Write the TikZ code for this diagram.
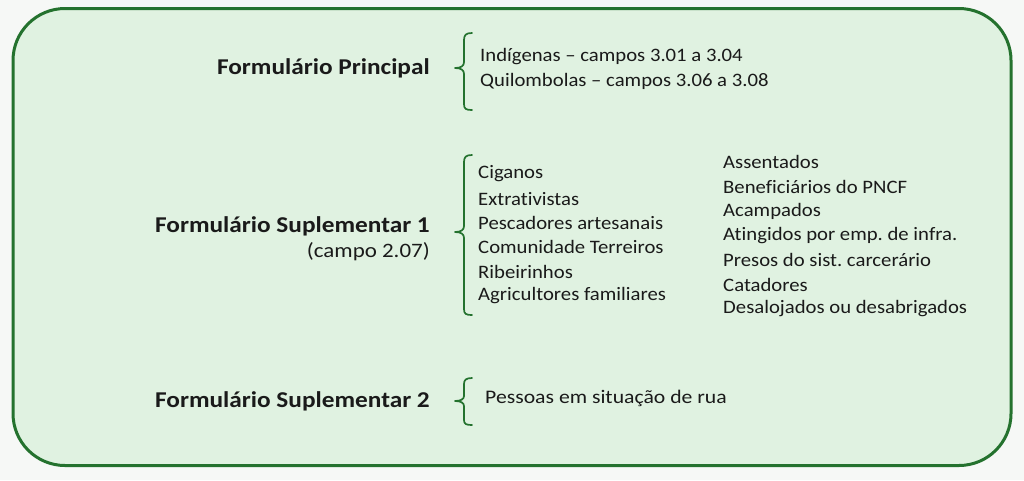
\documentclass[tikz,border=0pt]{standalone}
\usepackage{fontspec}
\setmainfont[Ligatures=NoCommon]{Carlito}
\frenchspacing
\definecolor{frame}{HTML}{24722E}
\definecolor{fillg}{HTML}{E0F2E1}
\definecolor{bgc}{HTML}{F6F8F6}
\definecolor{txt}{HTML}{1A1A1A}
\begin{document}
\begin{tikzpicture}[x=1pt,y=-1pt,
  title/.style={font=\fontsize{22.6}{24}\selectfont\bfseries, text=txt, anchor=east, inner sep=0pt, xscale=1.12},
  sub/.style={font=\fontsize{20.5}{22}\selectfont, text=txt, anchor=east, inner sep=0pt, xscale=1.12},
  item/.style={font=\fontsize{19}{20}\selectfont, text=txt, anchor=west, inner sep=0pt, xscale=1.09},
  small/.style={font=\fontsize{19.2}{20}\selectfont, text=txt, anchor=west, inner sep=0pt, xscale=1.13},
  bracel/.style={draw=frame, line width=1.7pt, line cap=round, line join=round}]
\useasboundingbox (0,0) rectangle (1024,480);
\fill[bgc] (0,0) rectangle (1024,480);
\node[draw=frame, fill=fillg, line width=3pt, rounded corners=52pt, minimum width=998pt, minimum height=457pt, inner sep=0pt] (box) at (512,237) {};

% Formulario Principal
\node[title] (fp) at (430,68) {Formulário Principal};
\draw[bracel] (472,33) .. controls (466,33) and (464,35) .. (464,40) -- (464,62) .. controls (464,66) and (461,68) .. (455,68) .. controls (461,68) and (464,70) .. (464,74) -- (464,104) .. controls (464,109) and (466,110) .. (472,110);
\node[item] (i1) at (480,57) {Indígenas – campos 3.01 a 3.04};
\node[item] (i2) at (480,81) {Quilombolas – campos 3.06 a 3.08};

% Formulario Suplementar 1
\node[title] (fs1) at (430,226) {Formulário Suplementar 1};
\node[sub] (c207) at (430,252) {(campo 2.07)};
\draw[bracel] (472,155) .. controls (466,155) and (464,157) .. (464,162) -- (464,226) .. controls (464,230) and (461,232) .. (455,232) .. controls (461,232) and (464,234) .. (464,238) -- (464,309) .. controls (464,314) and (466,315) .. (472,315);
\node[item] (a1) at (478,174) {Ciganos};
\node[item] (a2) at (478,199) {Extrativistas};
\node[item] (a3) at (478,223) {Pescadores artesanais};
\node[item] (a4) at (478,247) {Comunidade Terreiros};
\node[item] (a5) at (478,272) {Ribeirinhos};
\node[item] (a6) at (478,296) {Agricultores familiares};
\node[item] (b1) at (723,162) {Assentados};
\node[item] (b2) at (723,187) {Beneficiários do PNCF};
\node[item] (b3) at (723,211) {Acampados};
\node[item] (b4) at (723,236) {Atingidos por emp. de infra.};
\node[item] (b5) at (723,260) {Presos do sist. carcerário};
\node[item] (b6) at (723,285) {Catadores};
\node[item] (b7) at (723,309) {Desalojados ou desabrigados};

% Formulario Suplementar 2
\node[title] (fs2) at (430,401) {Formulário Suplementar 2};
\draw[bracel] (472,378) .. controls (466,378) and (464,380) .. (464,384) -- (464,396) .. controls (464,399) and (461,401) .. (455,401) .. controls (461,401) and (464,403) .. (464,406) -- (464,420) .. controls (464,424) and (466,425) .. (472,425);
\node[small] (p1) at (485,398) {Pessoas em situação de rua};
\end{tikzpicture}
\end{document}
